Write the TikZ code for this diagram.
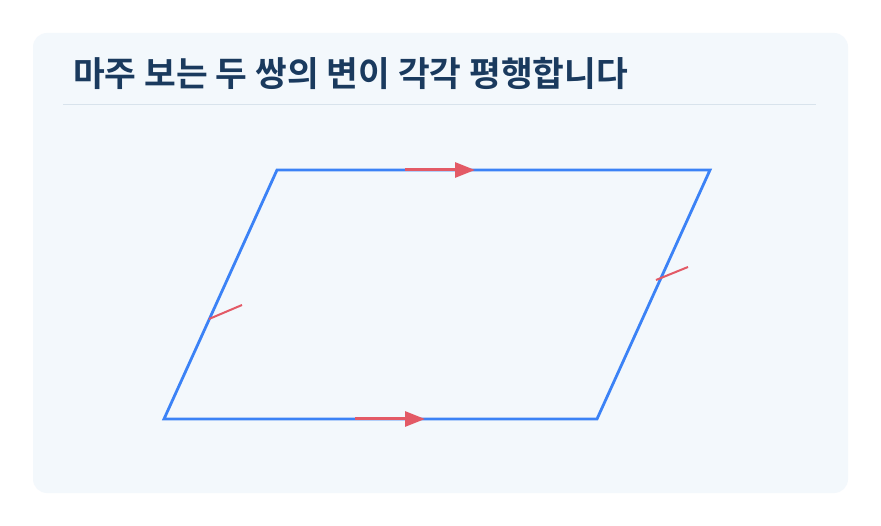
\documentclass[tikz,border=0pt]{standalone}
\usepackage{fontspec}
\newfontfamily\krfont{Noto Sans CJK KR Bold}
\usetikzlibrary{positioning,arrows.meta}
\definecolor{panelbg}{HTML}{F3F8FC}
\definecolor{rulegray}{HTML}{D8E3EC}
\definecolor{titlenavy}{HTML}{1A3A5E}
\definecolor{sideblue}{HTML}{3B82F6}
\definecolor{markred}{HTML}{E35A66}
\tikzstyle{side_edge}=[draw=sideblue, line width=2.8pt, line join=miter]
\tikzstyle{par_arrow}=[draw=markred, line width=3pt, -{Triangle[length=20pt, width=15pt]}]
\tikzstyle{tick_mark}=[draw=markred, line width=2pt]
\begin{document}
\begin{tikzpicture}[x=1pt, y=-1pt]
        \useasboundingbox (0, 0) rectangle (881, 526);
        \fill[white] (0, 0) rectangle (881, 526);
        \fill[panelbg, rounded corners=14pt] (33, 33) rectangle (848, 493);
        \node [anchor=west, inner sep=0pt, text=titlenavy, font=\krfont\fontsize{34.5}{40}\selectfont] (title) at (73, 73) {마주 보는 두 쌍의 변이 각각 평행합니다};
        \draw[rulegray, line width=1pt] (63, 105) -- (816, 105);
        \coordinate (a) at (164, 419);
        \coordinate (b) at (597, 419);
        \coordinate (c) at (710, 170);
        \coordinate (d) at (277, 170);
        \draw[style={side_edge}] (a) -- (b) -- (c) -- (d) -- cycle;
        \coordinate (t0) at (405, 170);
        \coordinate (t1) at (475, 170);
        \coordinate (b0) at (355, 419);
        \coordinate (b1) at (425, 419);
        \draw[style={par_arrow}] (t0) to (t1);
        \draw[style={par_arrow}] (b0) to (b1);
        \coordinate (l0) at (209, 319);
        \coordinate (l1) at (242, 305);
        \coordinate (r0) at (656, 280);
        \coordinate (r1) at (688, 267);
        \draw[style={tick_mark}] (l0) to (l1);
        \draw[style={tick_mark}] (r0) to (r1);
    \end{tikzpicture}
\end{document}
